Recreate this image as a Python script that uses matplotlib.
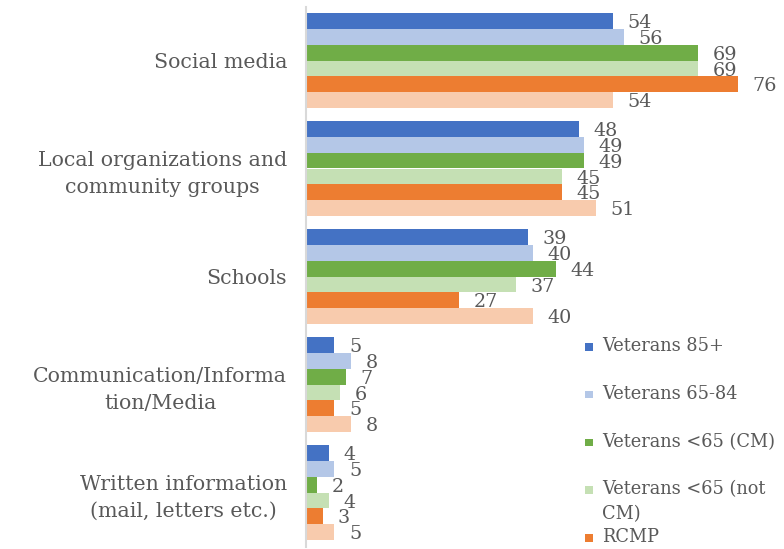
import matplotlib
matplotlib.use("Agg")
import matplotlib.pyplot as plt
from matplotlib.patches import Rectangle
import numpy as np

categories = ["Social media", "Local organizations and\ncommunity groups", "Schools",
              "Communication/Informa\ntion/Media", "Written information\n(mail, letters etc.)"]
series_names = ["Veterans 85+", "Veterans 65-84", "Veterans <65 (CM)",
                "Veterans <65 (not\nCM)", "RCMP", "RCMP (other)"]
v85 = [54, 48, 39, 5, 4]
v65_84 = [56, 49, 40, 8, 5]
v65_cm = [69, 49, 44, 7, 2]
v65_notcm = [69, 45, 37, 6, 4]
rcmp = [76, 45, 27, 5, 3]
rcmp_other = [54, 51, 40, 8, 5]
colors = ["#4472C4", "#B4C7E7", "#70AD47", "#C5E0B4", "#ED7D31", "#F8CBAD"]

series = [v85, v65_84, v65_cm, v65_notcm, rcmp, rcmp_other]

plt.rcParams['font.family'] = ['DejaVu Serif']
txt = "#595959"
W, H = 784, 549

fig = plt.figure(figsize=(W / 100, H / 100), dpi=100)
ax = fig.add_axes([306 / W, 2.5 / H, (770 - 306) / W, 540 / H])

n = len(series)
h = 0.88 / n
y = np.arange(len(categories))
for j, (vals, c) in enumerate(zip(series, colors)):
    pos = y + (j - (n - 1) / 2) * h
    bars = ax.barh(pos, vals, height=h, color=c, label=series_names[j])
    for b, v in zip(bars, vals):
        ax.annotate(str(v), (b.get_width(), b.get_y() + b.get_height() / 2),
                    xytext=(10.5, -1.5), textcoords="offset points",
                    ha="left", va="center", fontsize=13.8, color=txt)

ax.set_xlim(0, (770 - 306) / 5.68)
ax.set_ylim(len(categories) - 0.5, -0.5)
ax.set_yticks(y)
ax.set_yticklabels(categories, fontsize=14.8, color=txt, ha="right",
                   multialignment="center", linespacing=1.5)
ax.tick_params(axis="y", length=0, pad=13.5)
ax.tick_params(axis="x", bottom=False, labelbottom=False)
for s in ["top", "right", "bottom"]:
    ax.spines[s].set_visible(False)
ax.spines["left"].set_color("#D9D9D9")
ax.spines["left"].set_linewidth(1.5)

# legend (manual, equal slots as in the reference; last entry falls off the figure)
slot = 47.8
for i, (name, c) in enumerate(zip(series_names[:5], colors[:5])):
    yc = 347 + i * slot
    if i == 4:
        yc = 538
    fig.patches.append(Rectangle((585 / W, 1 - (yc + 3.5) / H), 7.5 / W, 7.5 / H,
                                 transform=fig.transFigure, facecolor=c, edgecolor="none"))
    fig.text(602 / W, 1 - (yc - 10) / H, name, fontsize=12.8, color=txt,
             ha="left", va="top", linespacing=1.5)

fig.savefig("out.png", dpi=100)
